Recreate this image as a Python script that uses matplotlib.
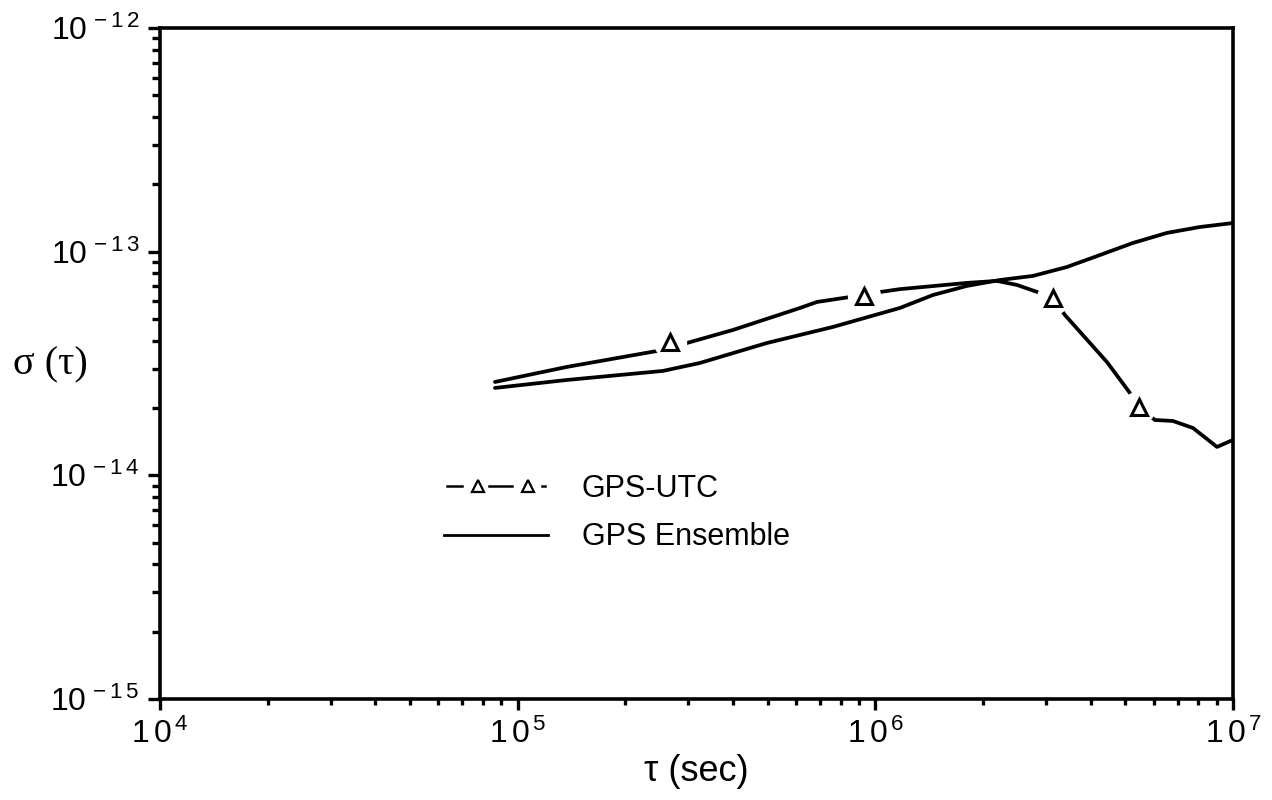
import matplotlib
matplotlib.use("Agg")
import matplotlib.pyplot as plt
from matplotlib.lines import Line2D
from matplotlib.legend_handler import HandlerBase
from matplotlib.ticker import LogLocator, FixedLocator, NullFormatter

plt.rcParams['font.family'] = ['Liberation Sans', 'DejaVu Sans']
plt.rcParams['mathtext.fontset'] = 'custom'
plt.rcParams['mathtext.rm'] = 'Liberation Sans'
plt.rcParams['mathtext.it'] = 'Liberation Sans:italic'

# ---- data ----
utc_tau = [8.64e4, 1.373e5, 2.451e5, 2.666e5, 2.974e5, 4.00e5, 6.16e5, 6.87e5,
           8.49e5, 9.29e5, 1.030e6, 1.172e6, 1.804e6, 2.187e6, 2.488e6, 2.885e6,
           3.137e6, 3.389e6, 4.442e6, 5.150e6, 5.457e6, 6.047e6, 6.79e6, 7.73e6,
           9.02e6, 1.0e7]
utc_sigma = [2.615e-14, 3.053e-14, 3.597e-14, 3.75e-14, 3.906e-14, 4.467e-14, 5.603e-14, 5.958e-14,
             6.27e-14, 6.34e-14, 6.60e-14, 6.80e-14, 7.25e-14, 7.40e-14, 7.10e-14, 6.54e-14,
             6.21e-14, 5.21e-14, 3.21e-14, 2.335e-14, 2.021e-14, 1.768e-14, 1.750e-14, 1.628e-14,
             1.340e-14, 1.44e-14]
utc_marker_tau = [2.666e5, 9.29e5, 3.137e6, 5.457e6]
utc_marker_sigma = [3.946e-14, 6.34e-14, 6.21e-14, 2.021e-14]

ens_tau = [8.64e4, 1.373e5, 2.548e5, 3.233e5, 4.977e5, 7.61e5, 1.172e6, 1.449e6,
           1.804e6, 2.230e6, 2.758e6, 3.432e6, 4.246e6, 5.251e6, 6.535e6, 8.08e6, 1.0e7]
ens_sigma = [2.459e-14, 2.669e-14, 2.93e-14, 3.18e-14, 3.906e-14, 4.607e-14, 5.603e-14, 6.40e-14,
             7.03e-14, 7.47e-14, 7.79e-14, 8.54e-14, 9.66e-14, 1.094e-13, 1.213e-13, 1.289e-13, 1.343e-13]

series_labels = ["GPS-UTC", "GPS Ensemble"]
x_ticks = [1e4, 1e5, 1e6, 1e7]
x_ticklabels = [r"$\mathregular{1\,0^{\,4}}$", r"$\mathregular{1\,0^{\,5}}$",
                r"$\mathregular{1\,0^{\,6}}$", r"$\mathregular{1\,0^{\,7}}$"]
y_ticks = [1e-15, 1e-14, 1e-13, 1e-12]
y_ticklabels = [r"$\mathregular{10^{\,-1\,5}}$", r"$\mathregular{10^{\,-1\,4}}$",
                r"$\mathregular{10^{\,-1\,3}}$", r"$\mathregular{10^{\,-1\,2}}$"]


class UTCHandler(HandlerBase):
    """Legend sample drawn as  — Δ — Δ ·"""
    def create_artists(self, legend, orig_handle, xdescent, ydescent,
                       width, height, fontsize, trans):
        y = height / 2 - ydescent
        x0 = -xdescent
        arts = []
        for a, b in [(0.03, 0.17), (0.43, 0.65), (0.94, 0.97)]:
            arts.append(Line2D([x0 + a * width, x0 + b * width], [y, y], color='black',
                               lw=1.8, transform=trans))
        for f in (0.32, 0.81):
            arts.append(Line2D([x0 + f * width], [y], ls='none', marker='^', ms=8,
                               mfc='white', mec='black', mew=1.6, transform=trans))
        return arts


fig = plt.figure(figsize=(12.72, 8.0), dpi=100)
ax = fig.add_axes([160/1272, 1-699/800, (1233-160)/1272, (699-28)/800])

ax.set_xscale('log')
ax.set_yscale('log')
ax.set_xlim(1e4, 1e7)
ax.set_ylim(1e-15, 1e-12)

# GPS-UTC line
utc_line, = ax.plot(utc_tau, utc_sigma, color='black', lw=2.7, zorder=2, solid_capstyle='round',
                    solid_joinstyle='round')
# gaps around markers
ax.plot(utc_marker_tau, utc_marker_sigma, ls='none', marker='o', ms=23,
        mfc='white', mec='white', zorder=3)
# GPS Ensemble line
ens_line, = ax.plot(ens_tau, ens_sigma, color='black', lw=2.7, zorder=4, solid_capstyle='round',
                    solid_joinstyle='round')
# triangles
ax.plot(utc_marker_tau, utc_marker_sigma, ls='none', marker='^', ms=11,
        mfc='white', mec='black', mew=2.2, zorder=5)

# axes styling
for s in ax.spines.values():
    s.set_linewidth(2.6)
ax.xaxis.set_major_locator(FixedLocator(x_ticks))
ax.xaxis.set_minor_locator(LogLocator(base=10, subs=range(2, 10)))
ax.xaxis.set_minor_formatter(NullFormatter())
ax.set_xticklabels(x_ticklabels)
ax.yaxis.set_major_locator(FixedLocator(y_ticks))
ax.yaxis.set_minor_locator(LogLocator(base=10, subs=range(2, 10)))
ax.yaxis.set_minor_formatter(NullFormatter())
ax.set_yticklabels(y_ticklabels)

ax.tick_params(which='both', direction='out', top=False, right=False, width=2.4)
ax.tick_params(axis='y', which='major', length=9, pad=6, labelsize=23)
ax.tick_params(axis='y', which='minor', length=6)
ax.tick_params(axis='x', which='major', length=8, pad=6, labelsize=23)
ax.tick_params(axis='x', which='minor', length=4)

ax.set_xlabel("τ (sec)", fontsize=26)
ax.xaxis.set_label_coords(0.5, -0.108)
ax.xaxis.label.set_va('center')
ax.set_ylabel("σ (τ)", fontsize=29, rotation=0, ha='center', va='center',
              family=['Liberation Serif', 'DejaVu Serif'])
ax.yaxis.set_label_coords(-0.1025, 0.498)

ens_handle = Line2D([], [], color='black', lw=2.0)
leg = ax.legend([utc_line, ens_handle], series_labels, loc='upper left',
                bbox_to_anchor=(0.265, 0.336),
                handler_map={utc_line: UTCHandler()},
                frameon=False, fontsize=22, handlelength=3.4,
                handletextpad=1.1, labelspacing=0.62, borderpad=0, borderaxespad=0)

fig.savefig("out.png", dpi=100, facecolor='white')
